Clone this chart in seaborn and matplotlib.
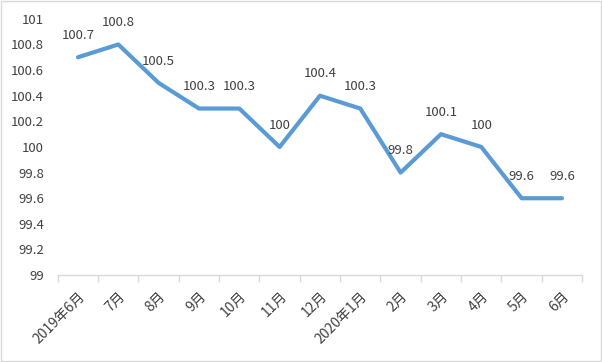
import matplotlib
matplotlib.use('Agg')
import matplotlib.pyplot as plt
import numpy as np
import pandas as pd
import seaborn as sns
from matplotlib.ticker import FixedLocator, FuncFormatter

months = ['2019年6月', '7月', '8月', '9月', '10月', '11月', '12月',
          '2020年1月', '2月', '3月', '4月', '5月', '6月']
values = [100.7, 100.8, 100.5, 100.3, 100.3, 100.0, 100.4,
          100.3, 99.8, 100.1, 100.0, 99.6, 99.6]
labels = ['100.7', '100.8', '100.5', '100.3', '100.3', '100', '100.4',
          '100.3', '99.8', '100.1', '100', '99.6', '99.6']

sns.set_style('white')
plt.rcParams['font.family'] = ['Noto Sans CJK SC', 'DejaVu Sans']

df = pd.DataFrame({'pos': np.arange(len(months)), 'val': values})

fig = plt.figure(figsize=(6.02, 3.62), dpi=100)
ax = fig.add_axes([0.096, 0.240, 0.871, 0.708])

sns.lineplot(data=df, x='pos', y='val', ax=ax, color='#5B9BD5', linewidth=3)

txt = '#404040'
for i, (v, l) in enumerate(zip(values, labels)):
    ax.annotate(l, (i, v), xytext=(0, 11), textcoords='offset points',
                ha='center', va='bottom', fontsize=9.5, color=txt)

ax.set_xlim(-0.5, len(months) - 0.5)
ax.set_ylim(99, 101)
ax.set_yticks(np.arange(99, 101.01, 0.2))
ax.yaxis.set_major_formatter(FuncFormatter(lambda y, p: '{:g}'.format(round(y, 1))))
ax.set_xticks(range(len(months)))
ax.set_xticklabels(months, rotation=45, ha='right', rotation_mode='anchor')
ax.xaxis.set_minor_locator(FixedLocator(np.arange(-0.5, len(months), 1)))
ax.tick_params(axis='x', which='major', bottom=True, length=0, pad=10,
               labelsize=10, colors=txt)
ax.tick_params(axis='x', which='minor', bottom=True, length=5,
               color='#D9D9D9', width=1)
ax.tick_params(axis='y', length=0, labelsize=9.5, colors=txt, pad=10)
ax.set_xlabel('')
ax.set_ylabel('')

for s in ['top', 'right', 'left']:
    ax.spines[s].set_visible(False)
ax.spines['bottom'].set_color('#D9D9D9')
ax.spines['bottom'].set_linewidth(1)

# outer chart border
fig.patches.append(plt.Rectangle((0.002, 0.003), 0.996, 0.994, transform=fig.transFigure,
                                 fill=False, edgecolor='#D9D9D9', linewidth=1))

fig.savefig('out.png', dpi=100)
